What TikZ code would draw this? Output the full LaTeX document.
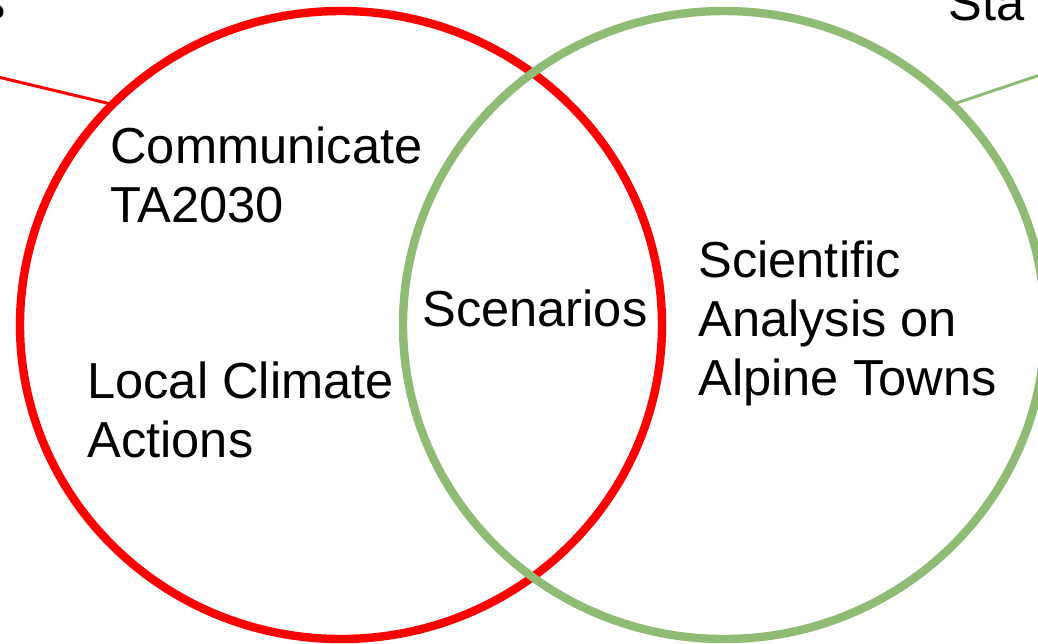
\documentclass[tikz,border=0pt]{standalone}
\usepackage{fontspec}
\setmainfont{Liberation Sans}
\usetikzlibrary{shapes.geometric}
\definecolor{setred}{RGB}{255,0,0}
\definecolor{setgreen}{RGB}{143,187,117}
\tikzstyle{setcircle} = [ellipse,draw,line width=4.2pt,minimum width=321pt,minimum height=314pt,inner sep=0pt,outer sep=0pt]
\tikzstyle{settext} = [inner sep=0pt,align=left,anchor=base west,font=\fontsize{25.3pt}{29.5pt}\selectfont]
\tikzstyle{link} = [line width=1.5pt]

\begin{document}
\begin{tikzpicture}[x=0.5pt,y=-0.5pt]
\useasboundingbox (0,0) rectangle (1038,643);
\clip (0,0) rectangle (1038,643);

%Circles
\node [setcircle,setred] (redset) at (341,325) {};
\node [setcircle,setgreen] (greenset) at (724,325) {};

%Edge points
\coordinate (redout) at (-2,77);
\coordinate (greenout) at (1040,75);

%Texts (base = last line)
\node [settext] (comm) at (110,222) {Communicate\\TA2030};
\node [settext] (local) at (87,457) {Local Climate\\Actions};
\node [settext] (scen) at (422,326) {Scenarios};
\node [settext] (sci) at (698,395) {Scientific\\Analysis on\\Alpine Towns};
\node [settext] (cutleft) at (-20,19) {s};
\node [settext] (cutright) at (948,20) {Sta};

%Lines
\draw[link,setred] (redout) -- (redset.136);
\draw[link,setgreen] (greenset.44) -- (greenout);
\end{tikzpicture}
\end{document}
